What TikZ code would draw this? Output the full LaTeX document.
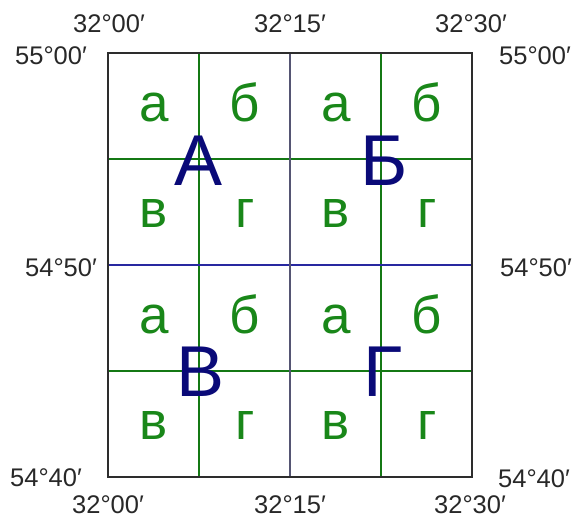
\documentclass[tikz,border=0pt]{standalone}
\usepackage{fontspec}
\setmainfont{Liberation Sans}
\definecolor{gridgreen}{RGB}{20,120,20}
\definecolor{lettergreen}{RGB}{25,135,25}
\definecolor{navyblue}{RGB}{10,10,120}
\definecolor{midblue}{RGB}{40,40,160}
\definecolor{midgray}{RGB}{85,85,115}
\definecolor{framegray}{RGB}{45,45,45}
\definecolor{labelgray}{RGB}{40,40,40}
\begin{document}
\begin{tikzpicture}[x=1pt,y=-1pt,
  coordlabel/.style={text=labelgray,font=\fontsize{25.5}{25.5}\selectfont,inner sep=0pt,anchor=center},
  small/.style={text=lettergreen,font=\fontsize{53}{53}\selectfont,inner sep=0pt,anchor=base},
  big/.style={text=navyblue,font=\fontsize{72}{72}\selectfont,inner sep=0pt,anchor=base},
  greenline/.style={draw=gridgreen,line width=1.3pt},
]
\useasboundingbox (0,0) rectangle (577,519);
% green lines
\foreach \x in {199,381} \draw[greenline] (\x,53) -- (\x,477);
\foreach \y in {159,371} \draw[greenline] (108,\y) -- (472,\y);
% middle lines
\draw[draw=midblue,line width=1.5pt] (108,265) -- (472,265);
\draw[draw=midgray,line width=2pt] (290,53) -- (290,477);
% frame
\draw[draw=framegray,line width=2pt] (108,53) rectangle (472,477);
% small letters
\foreach \yb/\ya in {121/0,227/1,333/2,439/3} {
  \ifodd\ya
    \node[small] at (154,\yb) {в};
    \node[small] at (245,\yb) {г};
    \node[small] at (336,\yb) {в};
    \node[small] at (427,\yb) {г};
  \else
    \node[small] at (154,\yb) {а};
    \node[small] at (245,\yb) {б};
    \node[small] at (336,\yb) {а};
    \node[small] at (427,\yb) {б};
  \fi
}
% big letters
\node[big] (A) at (199,185) {А};
\node[big] (B) at (384,185) {Б};
\node[big] (V) at (201,396) {В};
\node[big] (G) at (383,396) {Г};
% coordinate labels
\node[coordlabel] (t1) at (109,24) {32°00′};
\node[coordlabel] (t2) at (290,24) {32°15′};
\node[coordlabel] (t3) at (471,24) {32°30′};
\node[coordlabel] (b1) at (108,505) {32°00′};
\node[coordlabel] (b2) at (290,505) {32°15′};
\node[coordlabel] (b3) at (470,505) {32°30′};
\node[coordlabel] (l1) at (51,56) {55°00′};
\node[coordlabel] (l2) at (61,268) {54°50′};
\node[coordlabel] (l3) at (46,478) {54°40′};
\node[coordlabel] (r1) at (535,56) {55°00′};
\node[coordlabel] (r2) at (536,268) {54°50′};
\node[coordlabel] (r3) at (534,479) {54°40′};
\end{tikzpicture}
\end{document}
